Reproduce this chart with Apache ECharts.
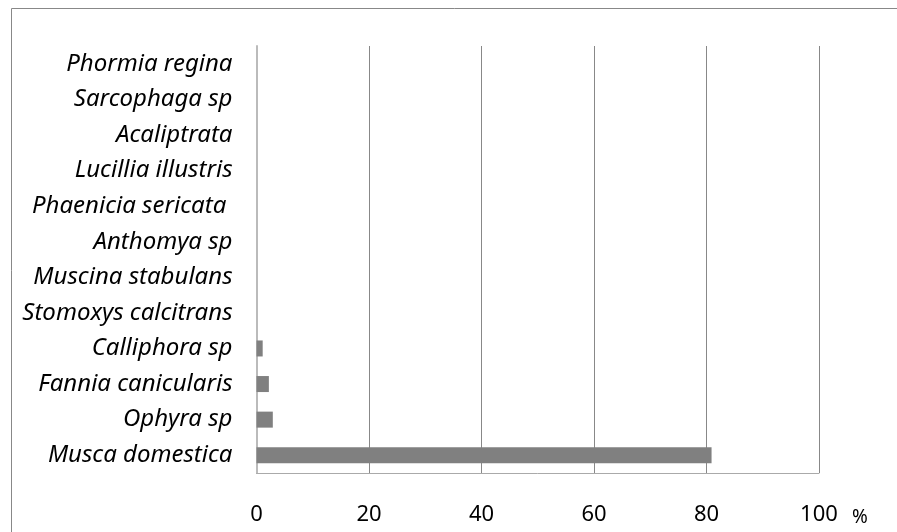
<!DOCTYPE html>
<html><head><meta charset="utf-8">
<script src="https://cdn.jsdelivr.net/npm/echarts@6/dist/echarts.min.js"></script>
<style>html,body{margin:0;padding:0;background:#fff}#c{width:897px;height:532px}</style>
</head><body><div id="c"></div>
<script>
const categories = ['Musca domestica','Ophyra sp','Fannia canicularis','Calliphora sp','Stomoxys calcitrans','Muscina stabulans','Anthomya sp','Phaenicia sericata ','Lucillia illustris','Acaliptrata','Sarcophaga sp','Phormia regina'];
const values = [80.9, 2.9, 2.2, 1.1, 0, 0, 0, 0, 0, 0, 0, 0];
const xTicks = [0, 20, 40, 60, 80, 100];
const chart = echarts.init(document.getElementById('c'));
chart.setOption({
  animation: false,
  graphic: [{type:'rect', shape:{x:11.5, y:8.5, width:900, height:600}, style:{fill:'none', stroke:'#888', lineWidth:1}, silent:true}],
  grid: {left: 256.5, right: 78, top: 46, bottom: 59, containLabel: false},
  xAxis: {
    type: 'value', min: xTicks[0], max: xTicks[xTicks.length-1], interval: 20,
    name: '%', nameLocation: 'end', nameGap: 33,
    nameTextStyle: {fontFamily: 'Noto Sans', fontSize: 19, color: '#000', verticalAlign: 'top', padding: [35,0,0,0]},
    axisLine: {show: true, lineStyle: {color: '#aaa', width: 1}},
    axisTick: {show: false},
    splitLine: {show: true, lineStyle: {color: '#888', width: 1}},
    axisLabel: {fontFamily: 'Noto Sans', fontSize: 22, color: '#000', margin: 31}
  },
  yAxis: {
    type: 'category', data: categories,
    axisLine: {show: true, lineStyle: {color: '#bbb', width: 2}},
    axisTick: {show: false},
    axisLabel: {fontFamily: 'Noto Sans', fontStyle: 'italic', fontSize: 24, color: '#000', margin: 24}
  },
  series: [{type: 'bar', data: values, barWidth: '45%', itemStyle: {color: '#808080'}}]
});
</script></body></html>
